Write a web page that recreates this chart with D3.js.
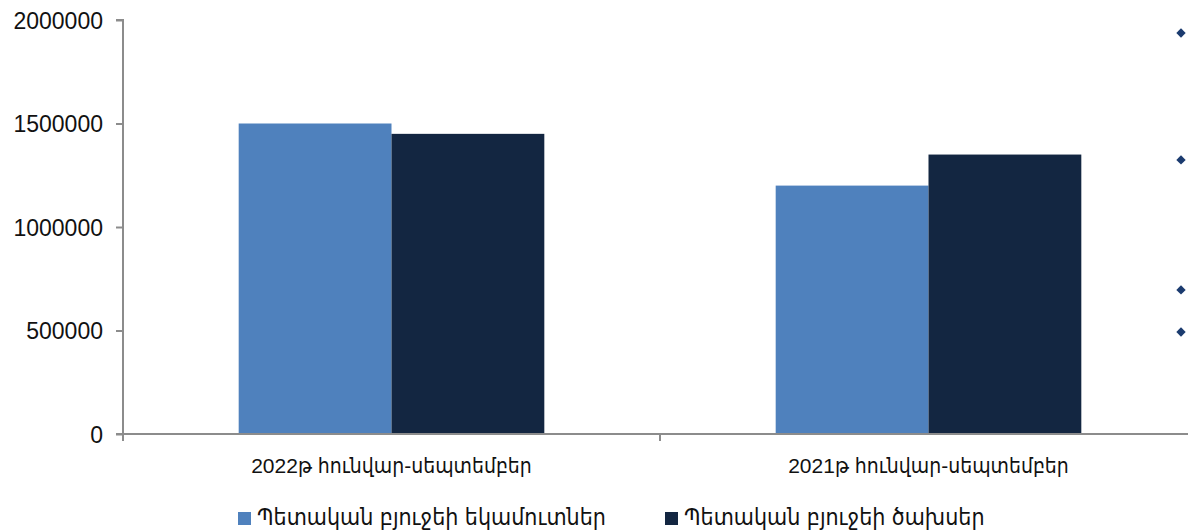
<!DOCTYPE html>
<html>
<head>
<meta charset="utf-8">
<script src="https://cdn.jsdelivr.net/npm/d3@7"></script>
<style>
  body { margin: 0; background: #fff; }
  svg { display: block; }
  text { font-family: "Liberation Sans", "DejaVu Sans Condensed", sans-serif; fill: #111; }
</style>
</head>
<body>
<div id="chart"></div>
<script>
// chart values
var categories = ["2022թ հունվար-սեպտեմբեր", "2021թ հունվար-սեպտեմբեր"];
var seriesNames = ["Պետական բյուջեի եկամուտներ", "Պետական բյուջեի ծախսեր"];
var revenues = [1500000, 1200000];
var expenses = [1450000, 1350000];
var yTicks = [0, 500000, 1000000, 1500000, 2000000];
// stray marker points on the right side of the plot
var markerValues = [1937000, 1324000, 696000, 493000];

var colors = ["#4f81bd", "#132641"];

var margin = {top: 20, right: 0, bottom: 98, left: 123},
    width = 1188 - margin.left - margin.right,
    height = 532 - margin.top - margin.bottom;

var plotWidth = 1074; // plot runs a bit past the window edge

var x0 = d3.scaleBand()
        .domain(categories)
        .range([0, plotWidth])
        .paddingInner(0)
        .paddingOuter(0);

var x1 = d3.scaleBand()
        .domain([0, 1])
        .range([0, x0.bandwidth()])
        .paddingInner(0)
        .paddingOuter(0.757);

var y = d3.scaleLinear()
        .domain([0, 2000000])
        .range([height, 0]);

var svg = d3.select("#chart")
            .append("svg")
            .attr("width", 1188)
            .attr("height", 532)
            .append("g")
            .attr("transform", "translate(" + margin.left + "," + margin.top + ")");

var data = categories.map(function(c, i) {
    return {cat: c, values: [revenues[i], expenses[i]]};
});

// bars
var groups = svg.selectAll(".grp")
    .data(data)
    .enter()
    .append("g")
    .attr("transform", function(d) { return "translate(" + x0(d.cat) + ",0)"; });

groups.selectAll("rect")
    .data(function(d) { return d.values.map(function(v, i) { return {i: i, v: v}; }); })
    .enter()
    .append("rect")
    .attr("x", function(d) { return x1(d.i); })
    .attr("width", x1.bandwidth())
    .attr("y", function(d) { return y(d.v); })
    .attr("height", function(d) { return height - y(d.v); })
    .attr("fill", function(d) { return colors[d.i]; });

// y axis
var yAxis = svg.append("g")
    .call(d3.axisLeft(y).tickValues(yTicks).tickSize(7).tickPadding(13).tickFormat(d3.format("d")));
yAxis.select(".domain").attr("stroke", "#8c8c8c").attr("stroke-width", 2).attr("d", "M0," + height + "V0H-7");
yAxis.selectAll(".tick line").attr("stroke", "#8c8c8c").attr("stroke-width", 2);
yAxis.selectAll(".tick text").style("font-size", "23px").attr("dy", "0.36em");

// x axis
var xAxis = svg.append("g")
    .attr("transform", "translate(0," + height + ")")
    .call(d3.axisBottom(x0).tickSize(0).tickPadding(24));
xAxis.select(".domain").remove();
xAxis.append("line")
    .attr("x1", -7).attr("x2", plotWidth)
    .attr("stroke", "#8c8c8c").attr("stroke-width", 2);
xAxis.selectAll(".sep")
    .data([0].concat(categories.map(function(c) { return x0(c) + x0.bandwidth(); })))
    .enter()
    .append("line")
    .attr("x1", function(d) { return d; }).attr("x2", function(d) { return d; })
    .attr("y1", 0).attr("y2", 7)
    .attr("stroke", "#8c8c8c").attr("stroke-width", 2);
xAxis.selectAll(".tick text").style("font-size", "21px");

// marker points
var markerX = plotWidth - 16;
svg.selectAll(".marker")
    .data(markerValues)
    .enter()
    .append("path")
    .attr("d", d3.symbol().type(d3.symbolSquare).size(44))
    .attr("transform", function(d) { return "translate(" + markerX + "," + y(d) + ") rotate(45)"; })
    .attr("fill", "#1b3b6f");

// legend
var legendX = [115, 542];
var legend = svg.selectAll(".legend")
    .data(seriesNames)
    .enter()
    .append("g")
    .attr("transform", function(d, i) { return "translate(" + legendX[i] + "," + (height + 78) + ")"; });
legend.append("rect")
    .attr("width", 13).attr("height", 13)
    .attr("fill", function(d, i) { return colors[i]; });
legend.append("text")
    .attr("x", 19).attr("y", 13)
    .style("font-size", "23px")
    .text(function(d) { return d; });
</script>
</body>
</html>
